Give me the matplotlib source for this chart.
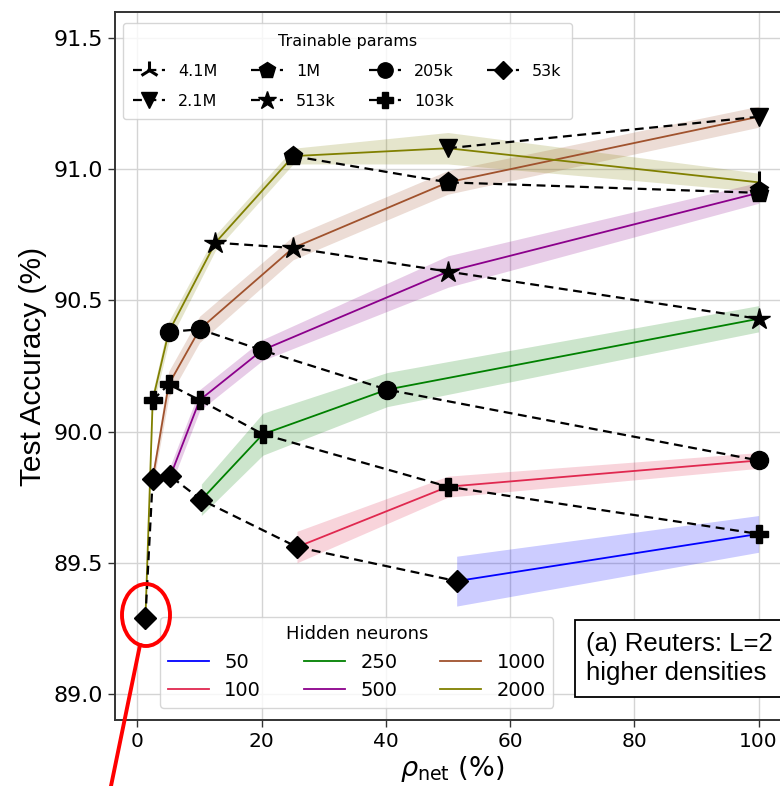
import matplotlib
matplotlib.use("Agg")
import matplotlib.pyplot as plt
from matplotlib.patches import Ellipse
from matplotlib.lines import Line2D
import numpy as np

# ---------------- data ----------------
hidden_neurons = ["50", "100", "250", "500", "1000", "2000"]
series_colors = ["#0000ff", "#e0284f", "#008000", "#8b008b", "#a0522d", "#808000"]

x_50 = [51.4, 100.0]
y_50 = [89.43, 89.61]
s_50 = [0.095, 0.07]

x_100 = [25.7, 50.0, 100.0]
y_100 = [89.56, 89.79, 89.89]
s_100 = [0.06, 0.04, 0.03]

x_250 = [10.3, 20.2, 40.2, 100.0]
y_250 = [89.74, 89.99, 90.16, 90.43]
s_250 = [0.06, 0.08, 0.065, 0.05]

x_500 = [5.3, 10.03, 20.08, 50.0, 100.0]
y_500 = [89.83, 90.12, 90.31, 90.61, 90.91]
s_500 = [0.04, 0.04, 0.04, 0.06, 0.04]

x_1000 = [2.47, 5.05, 10.03, 25.07, 50.0, 100.0]
y_1000 = [89.82, 90.18, 90.39, 90.70, 90.95, 91.20]
s_1000 = [0.03, 0.05, 0.05, 0.045, 0.045, 0.04]

x_2000 = [1.3, 2.47, 5.05, 12.56, 25.1, 50.0, 100.0]
y_2000 = [89.29, 90.12, 90.38, 90.72, 91.05, 91.08, 90.95]
s_2000 = [0.02, 0.03, 0.04, 0.03, 0.03, 0.06, 0.035]

param_labels = ["53k", "103k", "205k", "513k", "1M", "2.1M", "4.1M"]
param_markers = ["D", "P", "o", "*", "p", "v", "2"]
param_msizes = [11, 13, 13, 16, 14, 13, 16]

series_x = [x_50, x_100, x_250, x_500, x_1000, x_2000]
series_y = [y_50, y_100, y_250, y_500, y_1000, y_2000]
series_s = [s_50, s_100, s_250, s_500, s_1000, s_2000]

# ---------------- figure ----------------
fig = plt.figure(figsize=(7.8, 7.86), dpi=100)
ax = fig.add_axes([115 / 780, 65.8 / 786, 674 / 780, 708.4 / 786])

ax.grid(True, color="#d4d4d4", linewidth=1.0, zorder=0)
ax.set_axisbelow(True)

series_handles = []
for xs, ys, ss, col, lab in zip(series_x, series_y, series_s, series_colors, hidden_neurons):
    xs = np.array(xs); ys = np.array(ys); ss = np.array(ss)
    ax.fill_between(xs, ys - ss, ys + ss, color=col, alpha=0.2, linewidth=0, zorder=2)
    h, = ax.plot(xs, ys, color=col, lw=1.3, zorder=3, label=lab)
    series_handles.append(h)

# iso-parameter dashed lines (k-th point of every network)
param_handles = []
for k, (lab, mk, ms) in enumerate(zip(param_labels, param_markers, param_msizes)):
    px, py = [], []
    for xs, ys in zip(series_x[::-1], series_y[::-1]):
        if k < len(xs):
            px.append(xs[k]); py.append(ys[k])
    mew = 2.2 if mk == "2" else 1.0
    h, = ax.plot(px, py, ls=(0, (4, 2.5)), color="black", lw=1.6, marker=mk,
                 ms=ms, mfc="black", mec="black", mew=mew, zorder=5, label=lab)
    param_handles.append(h)

ax.set_xlim(-3.6, 104.9)
ax.set_ylim(88.9, 91.6)
ax.set_xticks([0, 20, 40, 60, 80, 100])
ax.set_yticks([89.0, 89.5, 90.0, 90.5, 91.0, 91.5])
ax.set_yticklabels(["89.0", "89.5", "90.0", "90.5", "91.0", "91.5"])
ax.tick_params(axis="both", direction="out", length=5, width=1.0, labelsize=14.5, color="#333333")
ax.tick_params(axis="y", labelsize=16)
for sp in ax.spines.values():
    sp.set_color("#333333")
    sp.set_linewidth(1.4)

ax.set_xlabel(r"$\rho_{\mathrm{net}}$ (%)", fontsize=19.5, labelpad=2)
ax.set_ylabel("Test Accuracy (%)", fontsize=21.5, family="Liberation Sans", labelpad=5)

# legends
order = [6, 5, 4, 3, 2, 1, 0]
leg1 = ax.legend([param_handles[i] for i in order], [param_labels[i] for i in order],
                 title="Trainable params", ncol=4, loc="upper left",
                 bbox_to_anchor=(0.012, 0.984), borderaxespad=0, fontsize=11.5,
                 title_fontsize=11.5, markerscale=0.85, columnspacing=2.1,
                 handlelength=2.0, labelspacing=0.95, borderpad=0.65,
                 framealpha=0.8, edgecolor="#cccccc")
ax.add_artist(leg1)
leg2 = ax.legend(series_handles, hidden_neurons, title="Hidden neurons", ncol=3,
                 loc="lower left", bbox_to_anchor=(0.0668, 0.0172), borderaxespad=0,
                 fontsize=14, title_fontsize=13, columnspacing=2.2, handlelength=2.1,
                 framealpha=0.8, edgecolor="#cccccc")

ax.text(0.699, 0.049, "(a) Reuters: L=2\nhigher densities", transform=ax.transAxes,
        fontsize=18.5, family="Liberation Sans", ha="left", va="bottom", zorder=10,
        linespacing=1.3,
        bbox=dict(boxstyle="square,pad=0.45", fc="white", ec="black", lw=1.3))

# red annotation
ell = Ellipse((146 / 780, 1 - 615 / 786), 48 / 780, 62 / 786, transform=fig.transFigure,
              fill=False, ec="red", lw=2.8, zorder=20)
fig.add_artist(ell)
fig.add_artist(Line2D([140 / 780, 111 / 780], [1 - 645 / 786, 1 - 786 / 786],
                      transform=fig.transFigure, color="red", lw=2.8, zorder=20))

fig.savefig("out.png", dpi=100)
